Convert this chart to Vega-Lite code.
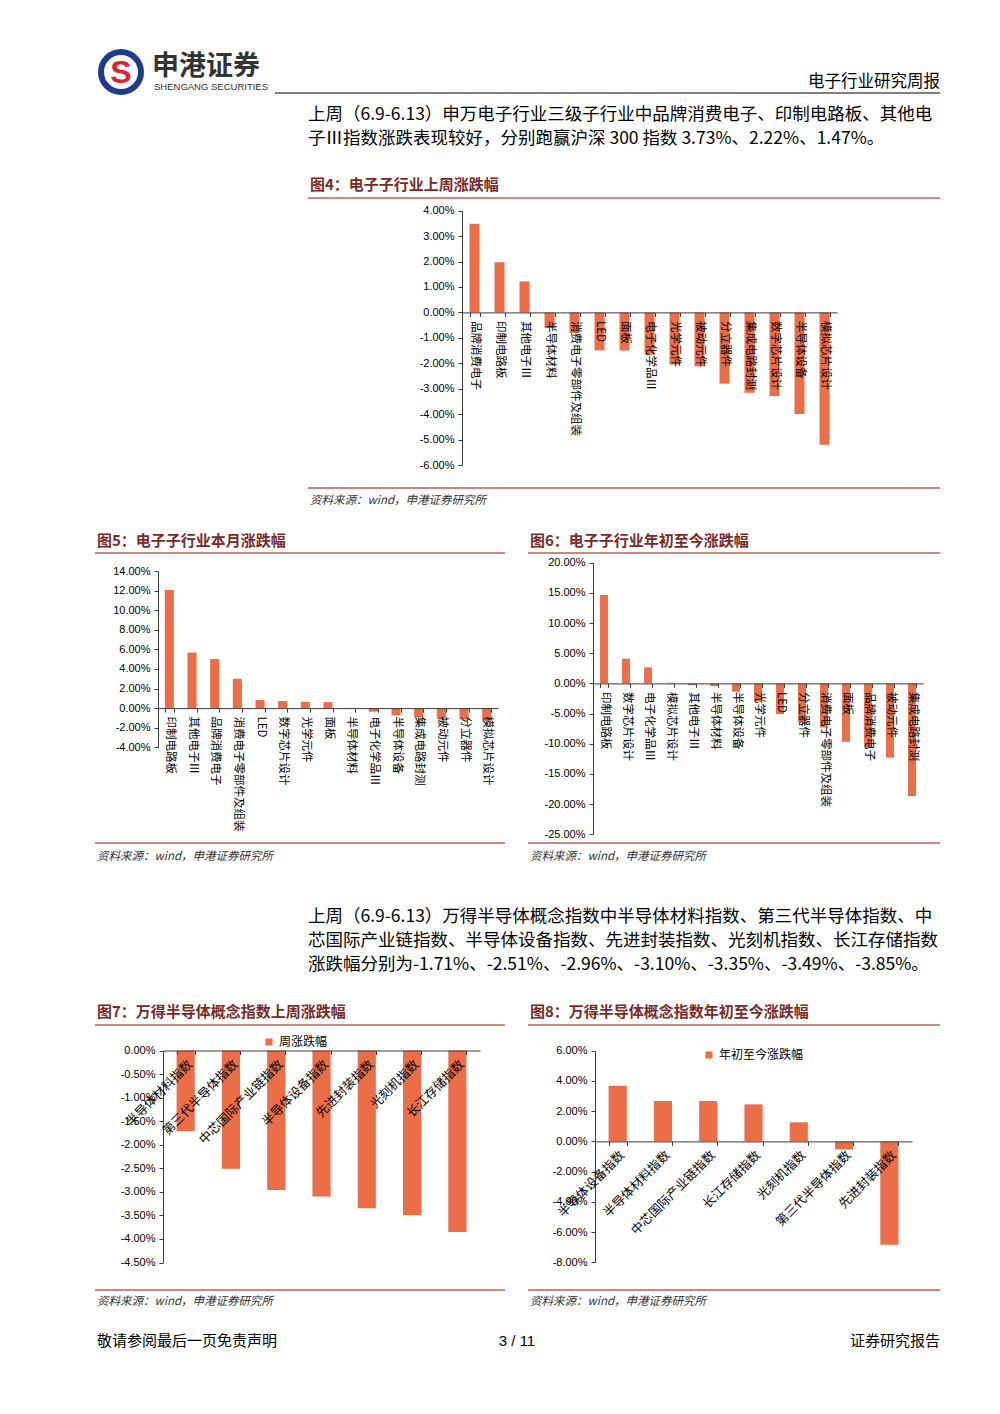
{
  "$schema": "https://vega.github.io/schema/vega-lite/v6.json",
  "background": "white",
  "padding": 0,
  "autosize": {"type": "none"},
  "width": 1000,
  "height": 1414,
  "config": {
    "view": {"stroke": null},
    "font": "Noto Sans CJK SC",
    "axis": {"domainColor": "#3c3c3c", "tickColor": "#3c3c3c", "labelColor": "#000000", "grid": false, "title": null},
    "axisY": {"labelFont": "Liberation Sans", "labelFontSize": 11, "tickSize": 4, "labelPadding": 4}
  },
  "datasets": {
    "week": [
      {"name": "品牌消费电子", "value": 3.49},
      {"name": "印制电路板", "value": 1.97},
      {"name": "其他电子Ⅲ", "value": 1.22},
      {"name": "半导体材料", "value": -0.61},
      {"name": "消费电子零部件及组装", "value": -0.81},
      {"name": "LED", "value": -1.49},
      {"name": "面板", "value": -1.5},
      {"name": "电子化学品Ⅲ", "value": -1.66},
      {"name": "光学元件", "value": -2.05},
      {"name": "被动元件", "value": -2.12},
      {"name": "分立器件", "value": -2.8},
      {"name": "集成电路封测", "value": -3.16},
      {"name": "数字芯片设计", "value": -3.29},
      {"name": "半导体设备", "value": -3.99},
      {"name": "模拟芯片设计", "value": -5.2}
    ],
    "month": [
      {"name": "印制电路板", "value": 12.05},
      {"name": "其他电子Ⅲ", "value": 5.67},
      {"name": "品牌消费电子", "value": 5.02},
      {"name": "消费电子零部件及组装", "value": 3.0},
      {"name": "LED", "value": 0.82},
      {"name": "数字芯片设计", "value": 0.72},
      {"name": "光学元件", "value": 0.65},
      {"name": "面板", "value": 0.61},
      {"name": "半导体材料", "value": 0.02},
      {"name": "电子化学品Ⅲ", "value": -0.36},
      {"name": "半导体设备", "value": -0.75},
      {"name": "集成电路封测", "value": -0.92},
      {"name": "被动元件", "value": -1.05},
      {"name": "分立器件", "value": -1.15},
      {"name": "模拟芯片设计", "value": -1.28}
    ],
    "ytd": [
      {"name": "印制电路板", "value": 14.67},
      {"name": "数字芯片设计", "value": 4.1},
      {"name": "电子化学品Ⅲ", "value": 2.66},
      {"name": "模拟芯片设计", "value": 0.12},
      {"name": "其他电子Ⅲ", "value": -0.28},
      {"name": "半导体材料", "value": -0.45},
      {"name": "半导体设备", "value": -1.38},
      {"name": "光学元件", "value": -3.0},
      {"name": "LED", "value": -5.08},
      {"name": "分立器件", "value": -6.35},
      {"name": "消费电子零部件及组装", "value": -7.3},
      {"name": "面板", "value": -9.67},
      {"name": "品牌消费电子", "value": -10.6},
      {"name": "被动元件", "value": -12.3},
      {"name": "集成电路封测", "value": -18.66}
    ],
    "semiWeek": [
      {"name": "半导体材料指数", "value": -1.71},
      {"name": "第三代半导体指数", "value": -2.51},
      {"name": "中芯国际产业链指数", "value": -2.96},
      {"name": "半导体设备指数", "value": -3.1},
      {"name": "先进封装指数", "value": -3.35},
      {"name": "光刻机指数", "value": -3.49},
      {"name": "长江存储指数", "value": -3.85}
    ],
    "semiYtd": [
      {"name": "半导体设备指数", "value": 3.68},
      {"name": "半导体材料指数", "value": 2.67},
      {"name": "中芯国际产业链指数", "value": 2.67},
      {"name": "长江存储指数", "value": 2.45},
      {"name": "光刻机指数", "value": 1.26},
      {"name": "第三代半导体指数", "value": -0.53},
      {"name": "先进封装指数", "value": -6.84}
    ]
  },
  "resolve": {
    "scale": {"x": "independent", "y": "independent", "color": "independent"},
    "axis": {"x": "independent", "y": "independent"},
    "legend": {"color": "independent"}
  },
  "layer": [
    {
      "data": {"values": [{}]},
      "layer": [
        {"mark": {"type": "point", "shape": "circle", "filled": true, "fill": "#ffffff", "stroke": "#1d3c8e", "strokeWidth": 6, "size": 1600, "opacity": 1},
         "encoding": {"x": {"datum": 121, "type": "quantitative", "scale": {"domain": [0, 1000], "nice": false, "zero": false}, "axis": null},
                      "y": {"datum": 72, "type": "quantitative", "scale": {"domain": [0, 1414], "nice": false, "zero": false, "reverse": true}, "axis": null}}},
        {"mark": {"type": "text", "text": "S", "fontSize": 32, "fontWeight": "bold", "color": "#d9262c", "font": "Liberation Sans", "align": "center", "baseline": "middle"},
         "encoding": {"x": {"datum": 121, "type": "quantitative", "scale": {"domain": [0, 1000], "nice": false, "zero": false}, "axis": null},
                      "y": {"datum": 73, "type": "quantitative", "scale": {"domain": [0, 1414], "nice": false, "zero": false, "reverse": true}, "axis": null}}},
        {"mark": {"type": "text", "text": "申港证券", "fontSize": 27, "fontWeight": "bold", "color": "#333333", "align": "left", "baseline": "middle"},
         "encoding": {"x": {"datum": 152, "type": "quantitative", "scale": {"domain": [0, 1000], "nice": false, "zero": false}, "axis": null},
                      "y": {"datum": 67, "type": "quantitative", "scale": {"domain": [0, 1414], "nice": false, "zero": false, "reverse": true}, "axis": null}}},
        {"mark": {"type": "text", "text": "SHENGANG SECURITIES", "fontSize": 9.5, "color": "#333333", "font": "Liberation Sans", "align": "left", "baseline": "middle"},
         "encoding": {"x": {"datum": 154, "type": "quantitative", "scale": {"domain": [0, 1000], "nice": false, "zero": false}, "axis": null},
                      "y": {"datum": 87, "type": "quantitative", "scale": {"domain": [0, 1414], "nice": false, "zero": false, "reverse": true}, "axis": null}}},
        {"mark": {"type": "text", "text": "电子行业研究周报", "fontSize": 16.5, "color": "#000000", "align": "right", "baseline": "middle"},
         "encoding": {"x": {"datum": 940, "type": "quantitative", "scale": {"domain": [0, 1000], "nice": false, "zero": false}, "axis": null},
                      "y": {"datum": 82, "type": "quantitative", "scale": {"domain": [0, 1414], "nice": false, "zero": false, "reverse": true}, "axis": null}}},
        {"mark": {"type": "rule", "color": "#000000", "strokeWidth": 1},
         "encoding": {"x": {"datum": 275, "type": "quantitative", "scale": {"domain": [0, 1000], "nice": false, "zero": false}, "axis": null}, "x2": {"datum": 940},
                      "y": {"datum": 93, "type": "quantitative", "scale": {"domain": [0, 1414], "nice": false, "zero": false, "reverse": true}, "axis": null}}},
        {"mark": {"type": "text", "text": "上周（6.9-6.13）申万电子行业三级子行业中品牌消费电子、印制电路板、其他电", "fontSize": 17.5, "color": "#000000", "align": "left", "baseline": "middle"},
         "encoding": {"x": {"datum": 308, "type": "quantitative", "scale": {"domain": [0, 1000], "nice": false, "zero": false}, "axis": null},
                      "y": {"datum": 114.5, "type": "quantitative", "scale": {"domain": [0, 1414], "nice": false, "zero": false, "reverse": true}, "axis": null}}},
        {"mark": {"type": "text", "text": "子Ⅲ指数涨跌表现较好，分别跑赢沪深 300 指数 3.73%、2.22%、1.47%。", "fontSize": 17.5, "color": "#000000", "align": "left", "baseline": "middle"},
         "encoding": {"x": {"datum": 308, "type": "quantitative", "scale": {"domain": [0, 1000], "nice": false, "zero": false}, "axis": null},
                      "y": {"datum": 138.5, "type": "quantitative", "scale": {"domain": [0, 1414], "nice": false, "zero": false, "reverse": true}, "axis": null}}},
        {"mark": {"type": "text", "text": "图4：电子子行业上周涨跌幅", "fontSize": 15, "fontWeight": "bold", "color": "#7a2a2a", "align": "left", "baseline": "middle"},
         "encoding": {"x": {"datum": 310, "type": "quantitative", "scale": {"domain": [0, 1000], "nice": false, "zero": false}, "axis": null},
                      "y": {"datum": 185, "type": "quantitative", "scale": {"domain": [0, 1414], "nice": false, "zero": false, "reverse": true}, "axis": null}}},
        {"mark": {"type": "rule", "color": "#b9605a", "strokeWidth": 1.5},
         "encoding": {"x": {"datum": 308, "type": "quantitative", "scale": {"domain": [0, 1000], "nice": false, "zero": false}, "axis": null}, "x2": {"datum": 940},
                      "y": {"datum": 198, "type": "quantitative", "scale": {"domain": [0, 1414], "nice": false, "zero": false, "reverse": true}, "axis": null}}},
        {"mark": {"type": "rule", "color": "#b9605a", "strokeWidth": 1.5},
         "encoding": {"x": {"datum": 308, "type": "quantitative", "scale": {"domain": [0, 1000], "nice": false, "zero": false}, "axis": null}, "x2": {"datum": 940},
                      "y": {"datum": 488, "type": "quantitative", "scale": {"domain": [0, 1414], "nice": false, "zero": false, "reverse": true}, "axis": null}}},
        {"mark": {"type": "text", "text": "资料来源：wind，申港证券研究所", "fontSize": 11.5, "fontStyle": "italic", "color": "#333333", "align": "left", "baseline": "middle"},
         "encoding": {"x": {"datum": 310, "type": "quantitative", "scale": {"domain": [0, 1000], "nice": false, "zero": false}, "axis": null},
                      "y": {"datum": 501, "type": "quantitative", "scale": {"domain": [0, 1414], "nice": false, "zero": false, "reverse": true}, "axis": null}}},
        {"mark": {"type": "text", "text": "图5：电子子行业本月涨跌幅", "fontSize": 15, "fontWeight": "bold", "color": "#7a2a2a", "align": "left", "baseline": "middle"},
         "encoding": {"x": {"datum": 97, "type": "quantitative", "scale": {"domain": [0, 1000], "nice": false, "zero": false}, "axis": null},
                      "y": {"datum": 541, "type": "quantitative", "scale": {"domain": [0, 1414], "nice": false, "zero": false, "reverse": true}, "axis": null}}},
        {"mark": {"type": "text", "text": "图6：电子子行业年初至今涨跌幅", "fontSize": 15, "fontWeight": "bold", "color": "#7a2a2a", "align": "left", "baseline": "middle"},
         "encoding": {"x": {"datum": 530, "type": "quantitative", "scale": {"domain": [0, 1000], "nice": false, "zero": false}, "axis": null},
                      "y": {"datum": 541, "type": "quantitative", "scale": {"domain": [0, 1414], "nice": false, "zero": false, "reverse": true}, "axis": null}}},
        {"mark": {"type": "rule", "color": "#b9605a", "strokeWidth": 1.5},
         "encoding": {"x": {"datum": 95, "type": "quantitative", "scale": {"domain": [0, 1000], "nice": false, "zero": false}, "axis": null}, "x2": {"datum": 505},
                      "y": {"datum": 553, "type": "quantitative", "scale": {"domain": [0, 1414], "nice": false, "zero": false, "reverse": true}, "axis": null}}},
        {"mark": {"type": "rule", "color": "#b9605a", "strokeWidth": 1.5},
         "encoding": {"x": {"datum": 528, "type": "quantitative", "scale": {"domain": [0, 1000], "nice": false, "zero": false}, "axis": null}, "x2": {"datum": 940},
                      "y": {"datum": 553, "type": "quantitative", "scale": {"domain": [0, 1414], "nice": false, "zero": false, "reverse": true}, "axis": null}}},
        {"mark": {"type": "rule", "color": "#b9605a", "strokeWidth": 1.5},
         "encoding": {"x": {"datum": 95, "type": "quantitative", "scale": {"domain": [0, 1000], "nice": false, "zero": false}, "axis": null}, "x2": {"datum": 505},
                      "y": {"datum": 843, "type": "quantitative", "scale": {"domain": [0, 1414], "nice": false, "zero": false, "reverse": true}, "axis": null}}},
        {"mark": {"type": "rule", "color": "#b9605a", "strokeWidth": 1.5},
         "encoding": {"x": {"datum": 528, "type": "quantitative", "scale": {"domain": [0, 1000], "nice": false, "zero": false}, "axis": null}, "x2": {"datum": 940},
                      "y": {"datum": 843, "type": "quantitative", "scale": {"domain": [0, 1414], "nice": false, "zero": false, "reverse": true}, "axis": null}}},
        {"mark": {"type": "text", "text": "资料来源：wind，申港证券研究所", "fontSize": 11.5, "fontStyle": "italic", "color": "#333333", "align": "left", "baseline": "middle"},
         "encoding": {"x": {"datum": 97, "type": "quantitative", "scale": {"domain": [0, 1000], "nice": false, "zero": false}, "axis": null},
                      "y": {"datum": 857, "type": "quantitative", "scale": {"domain": [0, 1414], "nice": false, "zero": false, "reverse": true}, "axis": null}}},
        {"mark": {"type": "text", "text": "资料来源：wind，申港证券研究所", "fontSize": 11.5, "fontStyle": "italic", "color": "#333333", "align": "left", "baseline": "middle"},
         "encoding": {"x": {"datum": 530, "type": "quantitative", "scale": {"domain": [0, 1000], "nice": false, "zero": false}, "axis": null},
                      "y": {"datum": 857, "type": "quantitative", "scale": {"domain": [0, 1414], "nice": false, "zero": false, "reverse": true}, "axis": null}}},
        {"mark": {"type": "text", "text": "上周（6.9-6.13）万得半导体概念指数中半导体材料指数、第三代半导体指数、中", "fontSize": 17.5, "color": "#000000", "align": "left", "baseline": "middle"},
         "encoding": {"x": {"datum": 308, "type": "quantitative", "scale": {"domain": [0, 1000], "nice": false, "zero": false}, "axis": null},
                      "y": {"datum": 917, "type": "quantitative", "scale": {"domain": [0, 1414], "nice": false, "zero": false, "reverse": true}, "axis": null}}},
        {"mark": {"type": "text", "text": "芯国际产业链指数、半导体设备指数、先进封装指数、光刻机指数、长江存储指数", "fontSize": 17.5, "color": "#000000", "align": "left", "baseline": "middle"},
         "encoding": {"x": {"datum": 308, "type": "quantitative", "scale": {"domain": [0, 1000], "nice": false, "zero": false}, "axis": null},
                      "y": {"datum": 941, "type": "quantitative", "scale": {"domain": [0, 1414], "nice": false, "zero": false, "reverse": true}, "axis": null}}},
        {"mark": {"type": "text", "text": "涨跌幅分别为-1.71%、-2.51%、-2.96%、-3.10%、-3.35%、-3.49%、-3.85%。", "fontSize": 17.5, "color": "#000000", "align": "left", "baseline": "middle"},
         "encoding": {"x": {"datum": 308, "type": "quantitative", "scale": {"domain": [0, 1000], "nice": false, "zero": false}, "axis": null},
                      "y": {"datum": 965, "type": "quantitative", "scale": {"domain": [0, 1414], "nice": false, "zero": false, "reverse": true}, "axis": null}}},
        {"mark": {"type": "text", "text": "图7：万得半导体概念指数上周涨跌幅", "fontSize": 15, "fontWeight": "bold", "color": "#7a2a2a", "align": "left", "baseline": "middle"},
         "encoding": {"x": {"datum": 97, "type": "quantitative", "scale": {"domain": [0, 1000], "nice": false, "zero": false}, "axis": null},
                      "y": {"datum": 1012, "type": "quantitative", "scale": {"domain": [0, 1414], "nice": false, "zero": false, "reverse": true}, "axis": null}}},
        {"mark": {"type": "text", "text": "图8：万得半导体概念指数年初至今涨跌幅", "fontSize": 15, "fontWeight": "bold", "color": "#7a2a2a", "align": "left", "baseline": "middle"},
         "encoding": {"x": {"datum": 530, "type": "quantitative", "scale": {"domain": [0, 1000], "nice": false, "zero": false}, "axis": null},
                      "y": {"datum": 1012, "type": "quantitative", "scale": {"domain": [0, 1414], "nice": false, "zero": false, "reverse": true}, "axis": null}}},
        {"mark": {"type": "rule", "color": "#b9605a", "strokeWidth": 1.5},
         "encoding": {"x": {"datum": 95, "type": "quantitative", "scale": {"domain": [0, 1000], "nice": false, "zero": false}, "axis": null}, "x2": {"datum": 505},
                      "y": {"datum": 1025, "type": "quantitative", "scale": {"domain": [0, 1414], "nice": false, "zero": false, "reverse": true}, "axis": null}}},
        {"mark": {"type": "rule", "color": "#b9605a", "strokeWidth": 1.5},
         "encoding": {"x": {"datum": 528, "type": "quantitative", "scale": {"domain": [0, 1000], "nice": false, "zero": false}, "axis": null}, "x2": {"datum": 940},
                      "y": {"datum": 1025, "type": "quantitative", "scale": {"domain": [0, 1414], "nice": false, "zero": false, "reverse": true}, "axis": null}}},
        {"mark": {"type": "rule", "color": "#b9605a", "strokeWidth": 1.5},
         "encoding": {"x": {"datum": 95, "type": "quantitative", "scale": {"domain": [0, 1000], "nice": false, "zero": false}, "axis": null}, "x2": {"datum": 505},
                      "y": {"datum": 1290, "type": "quantitative", "scale": {"domain": [0, 1414], "nice": false, "zero": false, "reverse": true}, "axis": null}}},
        {"mark": {"type": "rule", "color": "#b9605a", "strokeWidth": 1.5},
         "encoding": {"x": {"datum": 528, "type": "quantitative", "scale": {"domain": [0, 1000], "nice": false, "zero": false}, "axis": null}, "x2": {"datum": 940},
                      "y": {"datum": 1290, "type": "quantitative", "scale": {"domain": [0, 1414], "nice": false, "zero": false, "reverse": true}, "axis": null}}},
        {"mark": {"type": "text", "text": "资料来源：wind，申港证券研究所", "fontSize": 11.5, "fontStyle": "italic", "color": "#333333", "align": "left", "baseline": "middle"},
         "encoding": {"x": {"datum": 97, "type": "quantitative", "scale": {"domain": [0, 1000], "nice": false, "zero": false}, "axis": null},
                      "y": {"datum": 1302, "type": "quantitative", "scale": {"domain": [0, 1414], "nice": false, "zero": false, "reverse": true}, "axis": null}}},
        {"mark": {"type": "text", "text": "资料来源：wind，申港证券研究所", "fontSize": 11.5, "fontStyle": "italic", "color": "#333333", "align": "left", "baseline": "middle"},
         "encoding": {"x": {"datum": 530, "type": "quantitative", "scale": {"domain": [0, 1000], "nice": false, "zero": false}, "axis": null},
                      "y": {"datum": 1302, "type": "quantitative", "scale": {"domain": [0, 1414], "nice": false, "zero": false, "reverse": true}, "axis": null}}},
        {"mark": {"type": "text", "text": "敬请参阅最后一页免责声明", "fontSize": 15, "color": "#000000", "align": "left", "baseline": "middle"},
         "encoding": {"x": {"datum": 97, "type": "quantitative", "scale": {"domain": [0, 1000], "nice": false, "zero": false}, "axis": null},
                      "y": {"datum": 1341, "type": "quantitative", "scale": {"domain": [0, 1414], "nice": false, "zero": false, "reverse": true}, "axis": null}}},
        {"mark": {"type": "text", "text": "3 / 11", "fontSize": 15, "font": "Liberation Sans", "color": "#000000", "align": "center", "baseline": "middle"},
         "encoding": {"x": {"datum": 517, "type": "quantitative", "scale": {"domain": [0, 1000], "nice": false, "zero": false}, "axis": null},
                      "y": {"datum": 1341, "type": "quantitative", "scale": {"domain": [0, 1414], "nice": false, "zero": false, "reverse": true}, "axis": null}}},
        {"mark": {"type": "text", "text": "证券研究报告", "fontSize": 15, "color": "#000000", "align": "right", "baseline": "middle"},
         "encoding": {"x": {"datum": 940, "type": "quantitative", "scale": {"domain": [0, 1000], "nice": false, "zero": false}, "axis": null},
                      "y": {"datum": 1341, "type": "quantitative", "scale": {"domain": [0, 1414], "nice": false, "zero": false, "reverse": true}, "axis": null}}}
      ]
    },
    {
      "data": {"name": "week"},
      "mark": {"type": "bar", "color": "#EC6E48"},
      "encoding": {
        "x": {"field": "name", "type": "nominal", "sort": null, "scale": {"range": [462, 837], "paddingInner": 0.6, "paddingOuter": 0.3},
              "axis": {"orient": "bottom", "offset": -1101.6, "labelAngle": 90, "labelAlign": "left", "labelBaseline": "middle", "labelFontSize": 11.5, "labelPadding": 4, "labelLimit": 400, "labelOverlap": false, "tickBand": "extent", "tickSize": 4, "zindex": 1}},
        "y": {"field": "value", "type": "quantitative", "scale": {"domain": [-6, 4], "nice": false, "range": [465, 210.7]},
              "axis": {"orient": "left", "offset": -462, "values": [-6, -5, -4, -3, -2, -1, 0, 1, 2, 3, 4], "labelExpr": "replace(format(datum.value, '.2f'), '−', '-') + '%'"}}
      }
    },
    {
      "data": {"name": "month"},
      "mark": {"type": "bar", "color": "#EC6E48"},
      "encoding": {
        "x": {"field": "name", "type": "nominal", "sort": null, "scale": {"range": [158, 498], "paddingInner": 0.6, "paddingOuter": 0.3},
              "axis": {"orient": "bottom", "offset": -705.9, "labelAngle": 90, "labelAlign": "left", "labelBaseline": "middle", "labelFontSize": 11.5, "labelPadding": 4, "labelLimit": 400, "labelOverlap": false, "tickBand": "extent", "tickSize": 4, "zindex": 1}},
        "y": {"field": "value", "type": "quantitative", "scale": {"domain": [-4, 14], "nice": false, "range": [747.3, 571]},
              "axis": {"orient": "left", "offset": -158, "values": [-4, -2, 0, 2, 4, 6, 8, 10, 12, 14], "labelExpr": "replace(format(datum.value, '.2f'), '−', '-') + '%'"}}
      }
    },
    {
      "data": {"name": "ytd"},
      "mark": {"type": "bar", "color": "#EC6E48"},
      "encoding": {
        "x": {"field": "name", "type": "nominal", "sort": null, "scale": {"range": [593, 923], "paddingInner": 0.64, "paddingOuter": 0.32},
              "axis": {"orient": "bottom", "offset": -730.6, "labelAngle": 90, "labelAlign": "left", "labelBaseline": "middle", "labelFontSize": 11.5, "labelPadding": 4, "labelLimit": 400, "labelOverlap": false, "tickBand": "extent", "tickSize": 4, "zindex": 1}},
        "y": {"field": "value", "type": "quantitative", "scale": {"domain": [-25, 20], "nice": false, "range": [834.3, 562.7]},
              "axis": {"orient": "left", "offset": -593, "values": [-25, -20, -15, -10, -5, 0, 5, 10, 15, 20], "labelExpr": "replace(format(datum.value, '.2f'), '−', '-') + '%'"}}
      }
    },
    {
      "data": {"name": "semiWeek"},
      "mark": {"type": "bar"},
      "encoding": {
        "x": {"field": "name", "type": "nominal", "sort": null, "scale": {"range": [163, 480], "paddingInner": 0.6, "paddingOuter": 0.3},
              "axis": {"orient": "bottom", "offset": -363.5, "labelAngle": -45, "labelAlign": "right", "labelBaseline": "top", "labelFontSize": 12.5, "labelPadding": 3, "labelLimit": 400, "labelOverlap": false, "tickBand": "extent", "tickSize": 4, "zindex": 1}},
        "y": {"field": "value", "type": "quantitative", "scale": {"domain": [-4.5, 0], "nice": false, "range": [1262.5, 1050.5]},
              "axis": {"orient": "left", "offset": -163, "values": [-4.5, -4, -3.5, -3, -2.5, -2, -1.5, -1, -0.5, 0], "labelExpr": "replace(format(datum.value, '.2f'), '−', '-') + '%'"}},
        "color": {"datum": "周涨跌幅", "type": "nominal", "scale": {"range": ["#EC6E48"]},
                  "legend": {"orient": "none", "legendX": 263, "legendY": 1036, "title": null, "symbolType": "square", "symbolSize": 50, "labelFontSize": 12, "labelFont": "Noto Sans CJK SC", "labelColor": "#000000"}}
      }
    },
    {
      "data": {"name": "semiYtd"},
      "mark": {"type": "bar"},
      "encoding": {
        "x": {"field": "name", "type": "nominal", "sort": null, "scale": {"range": [595, 912], "paddingInner": 0.6, "paddingOuter": 0.3},
              "axis": {"orient": "bottom", "offset": -272.6, "labelAngle": -45, "labelAlign": "right", "labelBaseline": "top", "labelFontSize": 12.5, "labelPadding": 3, "labelLimit": 400, "labelOverlap": false, "tickBand": "extent", "tickSize": 4, "zindex": 1}},
        "y": {"field": "value", "type": "quantitative", "scale": {"domain": [-8, 6], "nice": false, "range": [1262.3, 1050.7]},
              "axis": {"orient": "left", "offset": -595, "values": [-8, -6, -4, -2, 0, 2, 4, 6], "labelExpr": "replace(format(datum.value, '.2f'), '−', '-') + '%'"}},
        "color": {"datum": "年初至今涨跌幅", "type": "nominal", "scale": {"range": ["#EC6E48"]},
                  "legend": {"orient": "none", "legendX": 703, "legendY": 1049, "title": null, "symbolType": "square", "symbolSize": 50, "labelFontSize": 12, "labelFont": "Noto Sans CJK SC", "labelColor": "#000000"}}
      }
    }
  ]
}
